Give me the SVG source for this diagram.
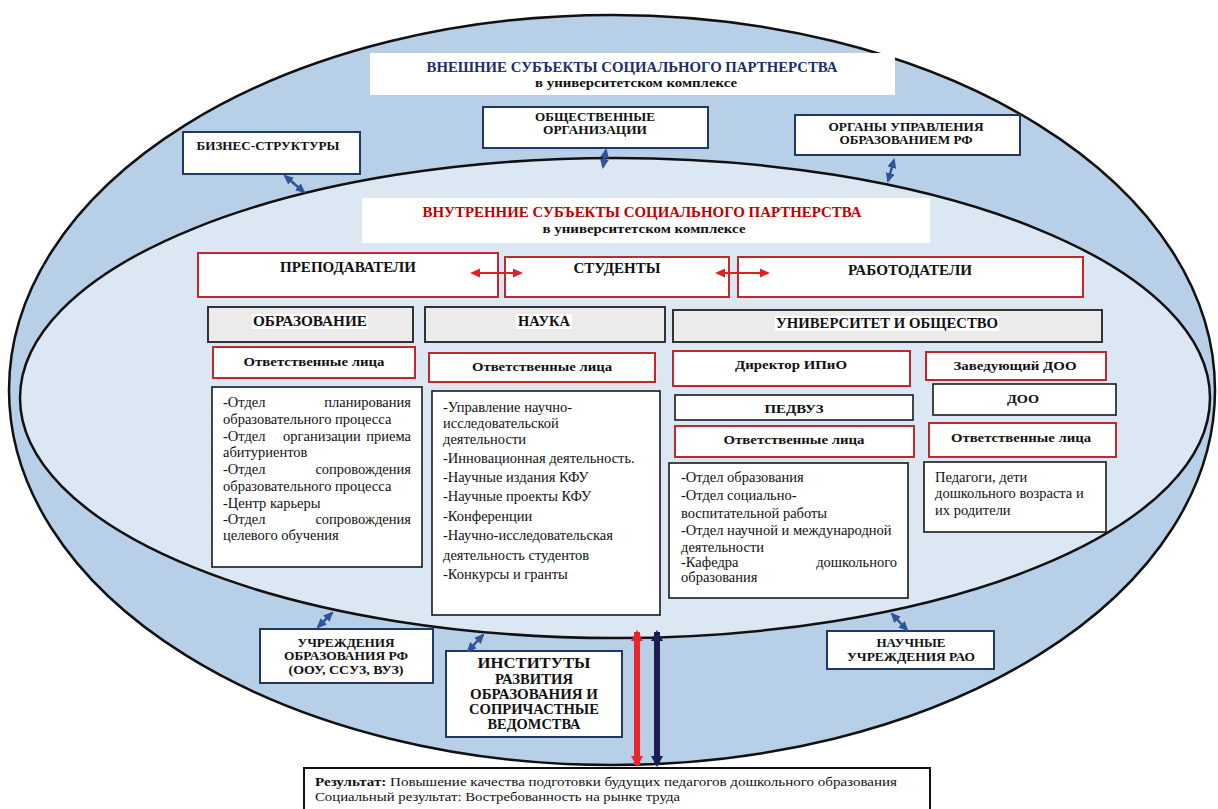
<svg xmlns="http://www.w3.org/2000/svg" width="1218" height="809" viewBox="0 0 1218 809">
<style>
.ext{fill:#fff;stroke:#1f3864;stroke-width:2}
.red{fill:#fff;stroke:#c0282d;stroke-width:2}
.gray{fill:#ebebeb;stroke:#333;stroke-width:2}
.blk{fill:#fff;stroke:#1a1a1a;stroke-width:1.6}
.hl{fill:#fff;stroke:none}
.b{font-family:"Liberation Serif","DejaVu Serif","Times New Roman",serif;font-weight:bold;fill:#111;text-anchor:middle}
.t{font-family:"Liberation Serif","DejaVu Serif","Times New Roman",serif;font-size:14.5px;fill:#111}
.nv{stroke:#2f5597;stroke-width:2.5;fill:none;marker-start:url(#hn);marker-end:url(#hn)}
.rd{stroke:#e02020;stroke-width:2;fill:none;marker-start:url(#hr);marker-end:url(#hr)}
</style>
<defs>
<marker id="hn" markerUnits="userSpaceOnUse" markerWidth="10" markerHeight="9" refX="8" refY="4.5" orient="auto-start-reverse"><path d="M0,0 L10,4.5 L0,9 z" fill="#2f5597"/></marker>
<marker id="hr" markerUnits="userSpaceOnUse" markerWidth="10" markerHeight="9" refX="8" refY="4.5" orient="auto-start-reverse"><path d="M0,0 L10,4.5 L0,9 z" fill="#e02020"/></marker>
<marker id="hbr" markerUnits="userSpaceOnUse" markerWidth="11" markerHeight="12" refX="9" refY="6" orient="auto-start-reverse"><path d="M0,0 L11,6 L0,12 z" fill="#e8262b"/></marker>
<marker id="hbn" markerUnits="userSpaceOnUse" markerWidth="11" markerHeight="12" refX="9" refY="6" orient="auto-start-reverse"><path d="M0,0 L11,6 L0,12 z" fill="#1b1f4f"/></marker>
</defs>
<rect width="1218" height="809" fill="#fff"/>
<g id="outer-ellipse"><ellipse cx="612" cy="390" rx="603" ry="375" fill="#b8cfe8" stroke="#111" stroke-width="2.5"/></g>
<g id="inner-ellipse"><ellipse cx="615" cy="398" rx="595" ry="240" fill="#dbe7f3" stroke="#111" stroke-width="2.5"/></g>

<g id="ext-title">
<rect x="370" y="53" width="525" height="42" class="hl"/>
<text class="b" x="632" y="72" font-size="15" style="fill:#1f2d6b" textLength="411" lengthAdjust="spacingAndGlyphs">ВНЕШНИЕ СУБЪЕКТЫ СОЦИАЛЬНОГО ПАРТНЕРСТВА</text>
<text class="b" x="636" y="87" font-size="12.5" textLength="202" lengthAdjust="spacingAndGlyphs">в университетском комплексе</text>
</g>
<g id="obshch">
<rect x="483" y="107" width="225" height="41" class="ext"/>
<text class="b" x="595" y="121" font-size="13" textLength="120" lengthAdjust="spacingAndGlyphs">ОБЩЕСТВЕННЫЕ</text>
<text class="b" x="595" y="134" font-size="13" textLength="104" lengthAdjust="spacingAndGlyphs">ОРГАНИЗАЦИИ</text>
</g>
<g id="biznes">
<rect x="183" y="132" width="177" height="42" class="ext"/>
<text class="b" x="268" y="150" font-size="13" textLength="143" lengthAdjust="spacingAndGlyphs">БИЗНЕС-СТРУКТУРЫ</text>
</g>
<g id="organy">
<rect x="795" y="115" width="225" height="40" class="ext"/>
<text class="b" x="906" y="131" font-size="13" textLength="155" lengthAdjust="spacingAndGlyphs">ОРГАНЫ УПРАВЛЕНИЯ</text>
<text class="b" x="906" y="144" font-size="13" textLength="133" lengthAdjust="spacingAndGlyphs">ОБРАЗОВАНИЕМ РФ</text>
</g>

<g id="int-title">
<rect x="362" y="198" width="568" height="45" class="hl"/>
<text class="b" x="642" y="217" font-size="15.5" style="fill:#c00000" textLength="439" lengthAdjust="spacingAndGlyphs">ВНУТРЕННИЕ СУБЪЕКТЫ СОЦИАЛЬНОГО ПАРТНЕРСТВА</text>
<text class="b" x="644" y="233" font-size="12.5" textLength="203" lengthAdjust="spacingAndGlyphs">в университетском комплексе</text>
</g>
<g id="prepod">
<rect x="198" y="253" width="300" height="44" class="red"/>
<text class="b" x="348" y="272" font-size="14.5" textLength="136" lengthAdjust="spacingAndGlyphs">ПРЕПОДАВАТЕЛИ</text>
</g>
<g id="student">
<rect x="505" y="257" width="224" height="40" class="red"/>
<text class="b" x="617" y="273" font-size="14.5" textLength="87" lengthAdjust="spacingAndGlyphs">СТУДЕНТЫ</text>
</g>
<g id="rabot">
<rect x="738" y="257" width="345" height="40" class="red"/>
<text class="b" x="910" y="275" font-size="14.5" textLength="124" lengthAdjust="spacingAndGlyphs">РАБОТОДАТЕЛИ</text>
</g>

<g id="obrazovanie">
<rect x="208" y="307" width="205" height="35" class="gray"/>
<rect x="252" y="314" width="116" height="15" class="hl"/>
<text class="b" x="310" y="326" font-size="14.5" textLength="114" lengthAdjust="spacingAndGlyphs">ОБРАЗОВАНИЕ</text>
</g>
<g id="nauka">
<rect x="425" y="307" width="240" height="35" class="gray"/>
<rect x="516" y="314" width="56" height="15" class="hl"/>
<text class="b" x="544" y="326" font-size="14.5" textLength="52" lengthAdjust="spacingAndGlyphs">НАУКА</text>
</g>
<g id="univ">
<rect x="673" y="310" width="429" height="32" class="gray"/>
<rect x="775" y="316" width="224" height="15" class="hl"/>
<text class="b" x="887" y="328" font-size="14.5" textLength="222" lengthAdjust="spacingAndGlyphs">УНИВЕРСИТЕТ И ОБЩЕСТВО</text>
</g>

<g id="otv-obr">
<rect x="213" y="347" width="202" height="31" class="red"/>
<text class="b" x="314" y="366" font-size="13.5" textLength="141" lengthAdjust="spacingAndGlyphs">Ответственные лица</text>
</g>
<g id="otv-nauka">
<rect x="429" y="353" width="226" height="29" class="red"/>
<text class="b" x="542" y="371" font-size="13.5" textLength="140" lengthAdjust="spacingAndGlyphs">Ответственные лица</text>
</g>
<g id="direktor">
<rect x="673" y="351" width="237" height="35" class="red"/>
<text class="b" x="791" y="369" font-size="13.5" textLength="112" lengthAdjust="spacingAndGlyphs">Директор ИПиО</text>
</g>
<g id="zaved">
<rect x="926" y="352" width="180" height="28" class="red"/>
<text class="b" x="1015" y="370" font-size="13.5" textLength="123" lengthAdjust="spacingAndGlyphs">Заведующий ДОО</text>
</g>
<g id="doo">
<rect x="933" y="384" width="183" height="31" class="blk"/>
<text class="b" x="1023" y="403" font-size="13.5" textLength="32" lengthAdjust="spacingAndGlyphs">ДОО</text>
</g>
<g id="pedvuz">
<rect x="675" y="395" width="238" height="25" class="blk"/>
<text class="b" x="794" y="413" font-size="13.5" textLength="59" lengthAdjust="spacingAndGlyphs">ПЕДВУЗ</text>
</g>
<g id="otv-pedvuz">
<rect x="675" y="426" width="239" height="31" class="red"/>
<text class="b" x="794" y="444" font-size="13.5" textLength="141" lengthAdjust="spacingAndGlyphs">Ответственные лица</text>
</g>
<g id="otv-doo">
<rect x="929" y="423" width="187" height="34" class="red"/>
<text class="b" x="1021" y="442" font-size="13.5" textLength="140" lengthAdjust="spacingAndGlyphs">Ответственные лица</text>
</g>

<g id="list-obr">
<rect x="212" y="387" width="210" height="180" class="blk"/>
<text class="t"><tspan x="223" y="407">-Отдел</tspan><tspan x="411" y="407" text-anchor="end">планирования</tspan></text>
<text class="t" x="223" y="424">образовательного процесса</text>
<text class="t"><tspan x="223" y="441">-Отдел</tspan><tspan x="283" y="441">организации</tspan><tspan x="411" y="441" text-anchor="end">приема</tspan></text>
<text class="t" x="223" y="457">абитуриентов</text>
<text class="t"><tspan x="223" y="474">-Отдел</tspan><tspan x="411" y="474" text-anchor="end">сопровождения</tspan></text>
<text class="t" x="223" y="491">образовательного процесса</text>
<text class="t" x="223" y="508">-Центр карьеры</text>
<text class="t"><tspan x="223" y="524">-Отдел</tspan><tspan x="411" y="524" text-anchor="end">сопровождения</tspan></text>
<text class="t" x="223" y="540">целевого обучения</text>
</g>
<g id="list-nauka">
<rect x="432" y="391" width="228" height="224" class="blk"/>
<text class="t" x="443" y="412">-Управление научно-</text>
<text class="t" x="443" y="428">исследовательской</text>
<text class="t" x="443" y="444">деятельности</text>
<text class="t" x="443" y="463">-Инновационная деятельность.</text>
<text class="t" x="443" y="482">-Научные издания КФУ</text>
<text class="t" x="443" y="501">-Научные проекты КФУ</text>
<text class="t" x="443" y="521">-Конференции</text>
<text class="t" x="443" y="540">-Научно-исследовательская</text>
<text class="t" x="443" y="560">деятельность студентов</text>
<text class="t" x="443" y="579">-Конкурсы и гранты</text>
</g>
<g id="list-pedvuz">
<rect x="669" y="463" width="239" height="135" class="blk"/>
<text class="t" x="681" y="482">-Отдел образования</text>
<text class="t" x="681" y="500">-Отдел социально-</text>
<text class="t" x="681" y="518">воспитательной работы</text>
<text class="t" x="681" y="535">-Отдел научной и международной</text>
<text class="t" x="681" y="552">деятельности</text>
<text class="t"><tspan x="681" y="567">-Кафедра</tspan><tspan x="897" y="567" text-anchor="end">дошкольного</tspan></text>
<text class="t" x="681" y="582">образования</text>
</g>
<g id="list-doo">
<rect x="924" y="462" width="182" height="70" class="blk"/>
<text class="t" x="935" y="482">Педагоги, дети</text>
<text class="t" x="935" y="498">дошкольного возраста и</text>
<text class="t" x="935" y="515">их родители</text>
</g>

<g id="uchrezhd">
<rect x="260" y="629" width="173" height="54" class="ext"/>
<text class="b" x="346" y="647" font-size="12.5" textLength="97" lengthAdjust="spacingAndGlyphs">УЧРЕЖДЕНИЯ</text>
<text class="b" x="346" y="660" font-size="12.5" textLength="124" lengthAdjust="spacingAndGlyphs">ОБРАЗОВАНИЯ РФ</text>
<text class="b" x="346" y="674" font-size="12.5" textLength="115" lengthAdjust="spacingAndGlyphs">(ООУ, ССУЗ, ВУЗ)</text>
</g>
<g id="instituty">
<rect x="446" y="651" width="176" height="86" class="ext"/>
<text class="b" x="534" y="668" font-size="14" textLength="113" lengthAdjust="spacingAndGlyphs">ИНСТИТУТЫ</text>
<text class="b" x="534" y="684" font-size="14" textLength="78" lengthAdjust="spacingAndGlyphs">РАЗВИТИЯ</text>
<text class="b" x="534" y="699" font-size="14" textLength="128" lengthAdjust="spacingAndGlyphs">ОБРАЗОВАНИЯ И</text>
<text class="b" x="534" y="714" font-size="14" textLength="130" lengthAdjust="spacingAndGlyphs">СОПРИЧАСТНЫЕ</text>
<text class="b" x="534" y="729" font-size="14" textLength="93" lengthAdjust="spacingAndGlyphs">ВЕДОМСТВА</text>
</g>
<g id="rao">
<rect x="827" y="631" width="167" height="38" class="ext"/>
<text class="b" x="911" y="647" font-size="12.5" textLength="69" lengthAdjust="spacingAndGlyphs">НАУЧНЫЕ</text>
<text class="b" x="911" y="661" font-size="12.5" textLength="128" lengthAdjust="spacingAndGlyphs">УЧРЕЖДЕНИЯ РАО</text>
</g>
<g id="result">
<rect x="304" y="768" width="626" height="50" fill="#fff" stroke="#111" stroke-width="2"/>
<text class="t" x="315" y="786" style="font-size:13.5px" textLength="582" lengthAdjust="spacingAndGlyphs"><tspan font-weight="bold">Результат:</tspan> Повышение качества подготовки будущих педагогов дошкольного образования</text>
<text class="t" x="315" y="801" style="font-size:13.5px" textLength="365" lengthAdjust="spacingAndGlyphs">Социальный результат: Востребованность на рынке труда</text>
</g>

<g id="connectors">
<line class="nv" x1="285" y1="176" x2="304" y2="192"/>
<line class="nv" x1="606" y1="150" x2="603" y2="167"/>
<line class="nv" x1="894" y1="160" x2="888" y2="181"/>
<line class="nv" x1="318" y1="627" x2="332" y2="613"/>
<line class="nv" x1="468" y1="651" x2="483" y2="635"/>
<line class="nv" x1="892" y1="614" x2="907" y2="630"/>
<line class="rd" x1="472" y1="273" x2="521" y2="273"/>
<line class="rd" x1="717" y1="273" x2="768" y2="273"/>
<line x1="637" y1="632" x2="637" y2="765" stroke="#e8262b" stroke-width="6" marker-start="url(#hbr)" marker-end="url(#hbr)"/>
<line x1="657" y1="632" x2="657" y2="765" stroke="#1b1f4f" stroke-width="6" marker-start="url(#hbn)" marker-end="url(#hbn)"/>
</g>
</svg>
